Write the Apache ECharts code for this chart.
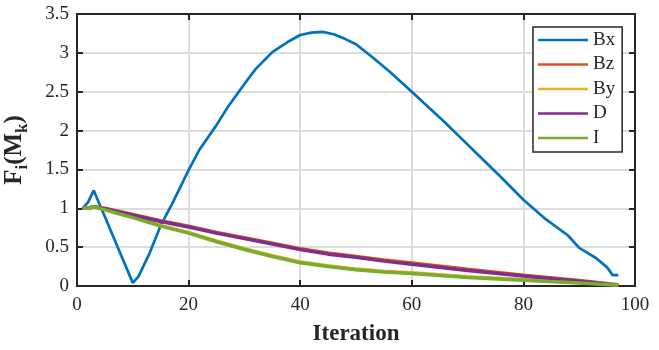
<!DOCTYPE html>
<html>
<head>
<meta charset="utf-8">
<script src="https://cdn.jsdelivr.net/npm/echarts@6/dist/echarts.min.js"></script>
<style>
  html, body { margin: 0; padding: 0; background: #fff; }
  #chart { width: 659px; height: 350px; }
</style>
</head>
<body>
<div id="chart"></div>
<script>
// Bx is sampled more densely where it wiggles
const iterBx = [1, 2, 3, 5, 7, 10, 11, 13, 15, 17, 20, 22, 25, 27, 30, 32, 35, 38, 40, 42, 44, 46, 48, 50, 53, 56, 60, 63, 66, 69, 72, 76, 80, 84, 88, 90, 93, 95, 96, 97];
const bx = [1.0, 1.08, 1.23, 0.89, 0.55, 0.04, 0.12, 0.42, 0.78, 1.05, 1.49, 1.76, 2.07, 2.30, 2.60, 2.79, 3.01, 3.15, 3.23, 3.26, 3.27, 3.24, 3.18, 3.11, 2.94, 2.76, 2.50, 2.30, 2.10, 1.89, 1.68, 1.40, 1.11, 0.86, 0.65, 0.49, 0.36, 0.24, 0.14, 0.14];

const iterFit = [1, 2, 3, 5, 7, 10, 15, 20, 25, 30, 35, 40, 45, 50, 55, 60, 70, 80, 90, 97];
const bz = [1.0, 1.0, 1.02, 1.0, 0.97, 0.92, 0.84, 0.77, 0.69, 0.62, 0.55, 0.48, 0.425, 0.38, 0.335, 0.295, 0.215, 0.14, 0.07, 0.015];
const by = [1.0, 1.0, 1.02, 0.99, 0.95, 0.89, 0.78, 0.69, 0.58, 0.48, 0.39, 0.31, 0.26, 0.22, 0.19, 0.17, 0.12, 0.085, 0.045, 0.015];
const d = [1.0, 1.0, 1.02, 0.99, 0.96, 0.91, 0.83, 0.76, 0.68, 0.61, 0.54, 0.47, 0.41, 0.37, 0.32, 0.28, 0.20, 0.13, 0.06, 0.01];
const inc = [1.0, 1.0, 1.02, 0.98, 0.94, 0.88, 0.77, 0.68, 0.57, 0.47, 0.38, 0.30, 0.25, 0.21, 0.18, 0.16, 0.11, 0.075, 0.04, 0.01];

const xTicks = [0, 20, 40, 60, 80, 100];
const yTicks = [0, 0.5, 1, 1.5, 2, 2.5, 3, 3.5];

const FONT = '"Liberation Serif", "DejaVu Serif", serif';
const INK = '#262626';

function pairs(xs, ys) {
  return xs.map((x, i) => [x, ys[i]]);
}

function lineSeries(name, xs, ys, color, width) {
  return {
    name,
    type: 'line',
    data: pairs(xs, ys),
    showSymbol: false,
    symbol: 'none',
    smooth: false,
    lineStyle: { color, width },
    itemStyle: { color },
    animation: false,
  };
}

const axisBase = {
  type: 'value',
  axisLine: { show: true, onZero: false, lineStyle: { color: INK, width: 2 } },
  axisTick: { show: true, inside: true, length: 6, lineStyle: { color: INK, width: 2 } },
};

const chart = echarts.init(document.getElementById('chart'));
chart.setOption({
  animation: false,
  grid: { left: 77, right: 24, top: 14, bottom: 64, outerBoundsMode: 'none', containLabel: false },
  legend: {
    orient: 'vertical',
    left: 533,
    top: 27,
    padding: [3, 7, 4, 5],
    backgroundColor: '#fff',
    borderColor: INK,
    borderWidth: 1.5,
    borderRadius: 0,
    icon: 'rect',
    itemWidth: 50,
    itemHeight: 2.5,
    itemGap: 4.5,
    textStyle: { fontFamily: FONT, fontSize: 19, lineHeight: 20, color: INK },
    data: ['Bx', 'Bz', 'By', 'D', 'I'],
  },
  xAxis: [
    {
      ...axisBase,
      position: 'bottom',
      min: xTicks[0],
      max: xTicks[xTicks.length - 1],
      interval: 20,
      name: 'Iteration',
      nameLocation: 'middle',
      nameGap: 37,
      nameTextStyle: { fontFamily: FONT, fontSize: 23, fontWeight: 'bold', color: INK },
      axisLabel: { fontFamily: FONT, fontSize: 19, color: INK, margin: 10 },
      splitLine: { show: true, lineStyle: { color: '#dcdcdc', width: 2 } },
    },
    {
      ...axisBase,
      position: 'top',
      min: xTicks[0],
      max: xTicks[xTicks.length - 1],
      interval: 20,
      axisLabel: { show: false },
      splitLine: { show: false },
    },
  ],
  yAxis: [
    {
      ...axisBase,
      position: 'left',
      min: yTicks[0],
      max: yTicks[yTicks.length - 1],
      interval: 0.5,
      name: '{m|F}{s|i}{m|(M}{s|k}{m|)}',
      nameLocation: 'middle',
      nameRotate: 90,
      nameGap: 46,
      nameTextStyle: {
        rich: {
          m: { fontFamily: FONT, fontSize: 25, fontWeight: 'bold', color: INK, lineHeight: 32, verticalAlign: 'middle' },
          s: { fontFamily: FONT, fontSize: 17, fontWeight: 'bold', color: INK, lineHeight: 32, verticalAlign: 'bottom' },
        },
      },
      axisLabel: { fontFamily: FONT, fontSize: 19, color: INK, margin: 8 },
      splitLine: { show: true, lineStyle: { color: '#dcdcdc', width: 2 } },
    },
    {
      ...axisBase,
      position: 'right',
      min: yTicks[0],
      max: yTicks[yTicks.length - 1],
      interval: 0.5,
      axisLabel: { show: false },
      splitLine: { show: false },
    },
  ],
  series: [
    lineSeries('Bx', iterBx, bx, '#0072BD', 2.7),
    lineSeries('Bz', iterFit, bz, '#D95319', 3.5),
    lineSeries('By', iterFit, by, '#EDB120', 3.5),
    lineSeries('D', iterFit, d, '#7E2F8E', 3.5),
    lineSeries('I', iterFit, inc, '#77AC30', 3.5),
  ],
});
</script>
</body>
</html>
